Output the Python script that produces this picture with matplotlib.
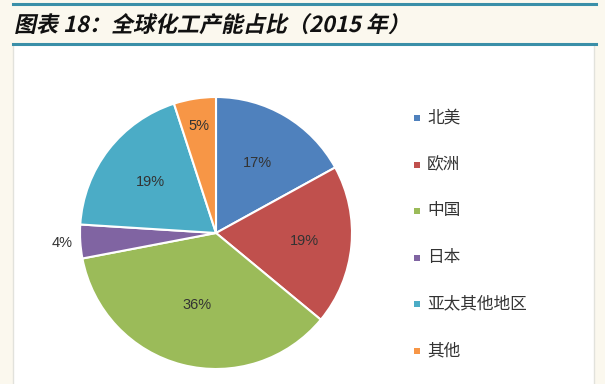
import numpy as np
import matplotlib
matplotlib.use("Agg")
import matplotlib.pyplot as plt
from matplotlib.patches import Rectangle, PathPatch
from matplotlib.lines import Line2D
from matplotlib.textpath import TextPath
from matplotlib.font_manager import FontProperties
from matplotlib.transforms import Affine2D

plt.rcParams['font.family'] = ['Noto Sans CJK SC', 'DejaVu Sans']

title = '图表 18：全球化工产能占比（2015 年）'
regions = ['北美', '欧洲', '中国', '日本', '亚太其他地区', '其他']
shares = [17, 19, 36, 4, 19, 5]
colors = ['#4F81BD', '#C0504D', '#9BBB59', '#8064A2', '#4BACC6', '#F79646']
label_dist = [0.6, 0.65, 0.55, 1.13, 0.61, 0.8]

W, H = 605, 384
fig = plt.figure(figsize=(W / 100, H / 100), dpi=100, facecolor='#FBF8EE')

# white panel + header lines (figure pixel coords)
bg = fig.add_axes([0, 0, 1, 1])
bg.set_xlim(0, W)
bg.set_ylim(H, 0)
bg.axis('off')
bg.add_patch(Rectangle((13, 44), 581, 345, facecolor='white', edgecolor='#E2E2DC', lw=1))
bg.add_line(Line2D([13, 596], [4, 4], color='#3A8FA8', lw=2.2))
bg.add_line(Line2D([13, 596], [44, 44], color='#3A8FA8', lw=2.2))

# slanted bold title (CJK font has no italic, so shear the glyph outlines)
tp = TextPath((0, 0), title, size=22,
              prop=FontProperties(family='Noto Sans CJK SC', weight='bold'))
tr = Affine2D().skew_deg(12, 0).scale(1, -1).translate(14, 32) + bg.transData
bg.add_patch(PathPatch(tp, facecolor='#111111', edgecolor='none', transform=tr))

# pie
cx, cy, r = 216, 233, 136
ax = fig.add_axes([(cx - r) / W, (H - cy - r) / H, 2 * r / W, 2 * r / H])
wedges, _ = ax.pie(shares, colors=colors, startangle=90, counterclock=False,
                   wedgeprops=dict(edgecolor='white', linewidth=1.5))
ax.set_xlim(-1, 1)
ax.set_ylim(-1, 1)
ax.set_aspect('equal')

for w, v, d in zip(wedges, shares, label_dist):
    ang = np.deg2rad((w.theta1 + w.theta2) / 2)
    ax.text(d * np.cos(ang), d * np.sin(ang), f'{v}%', ha='center', va='center',
            fontsize=10.5, color='#333333', family=['Liberation Sans', 'DejaVu Sans'])

# legend
y0, dy = 118, 46.5
for i, (name, c) in enumerate(zip(regions, colors)):
    y = y0 + i * dy
    bg.add_patch(Rectangle((414, y - 3), 6, 6, facecolor=c, edgecolor='none'))
    bg.text(427, y, name, fontsize=12, va='center', ha='left', color='#333333')

fig.savefig('out.png', dpi=100, facecolor=fig.get_facecolor())
